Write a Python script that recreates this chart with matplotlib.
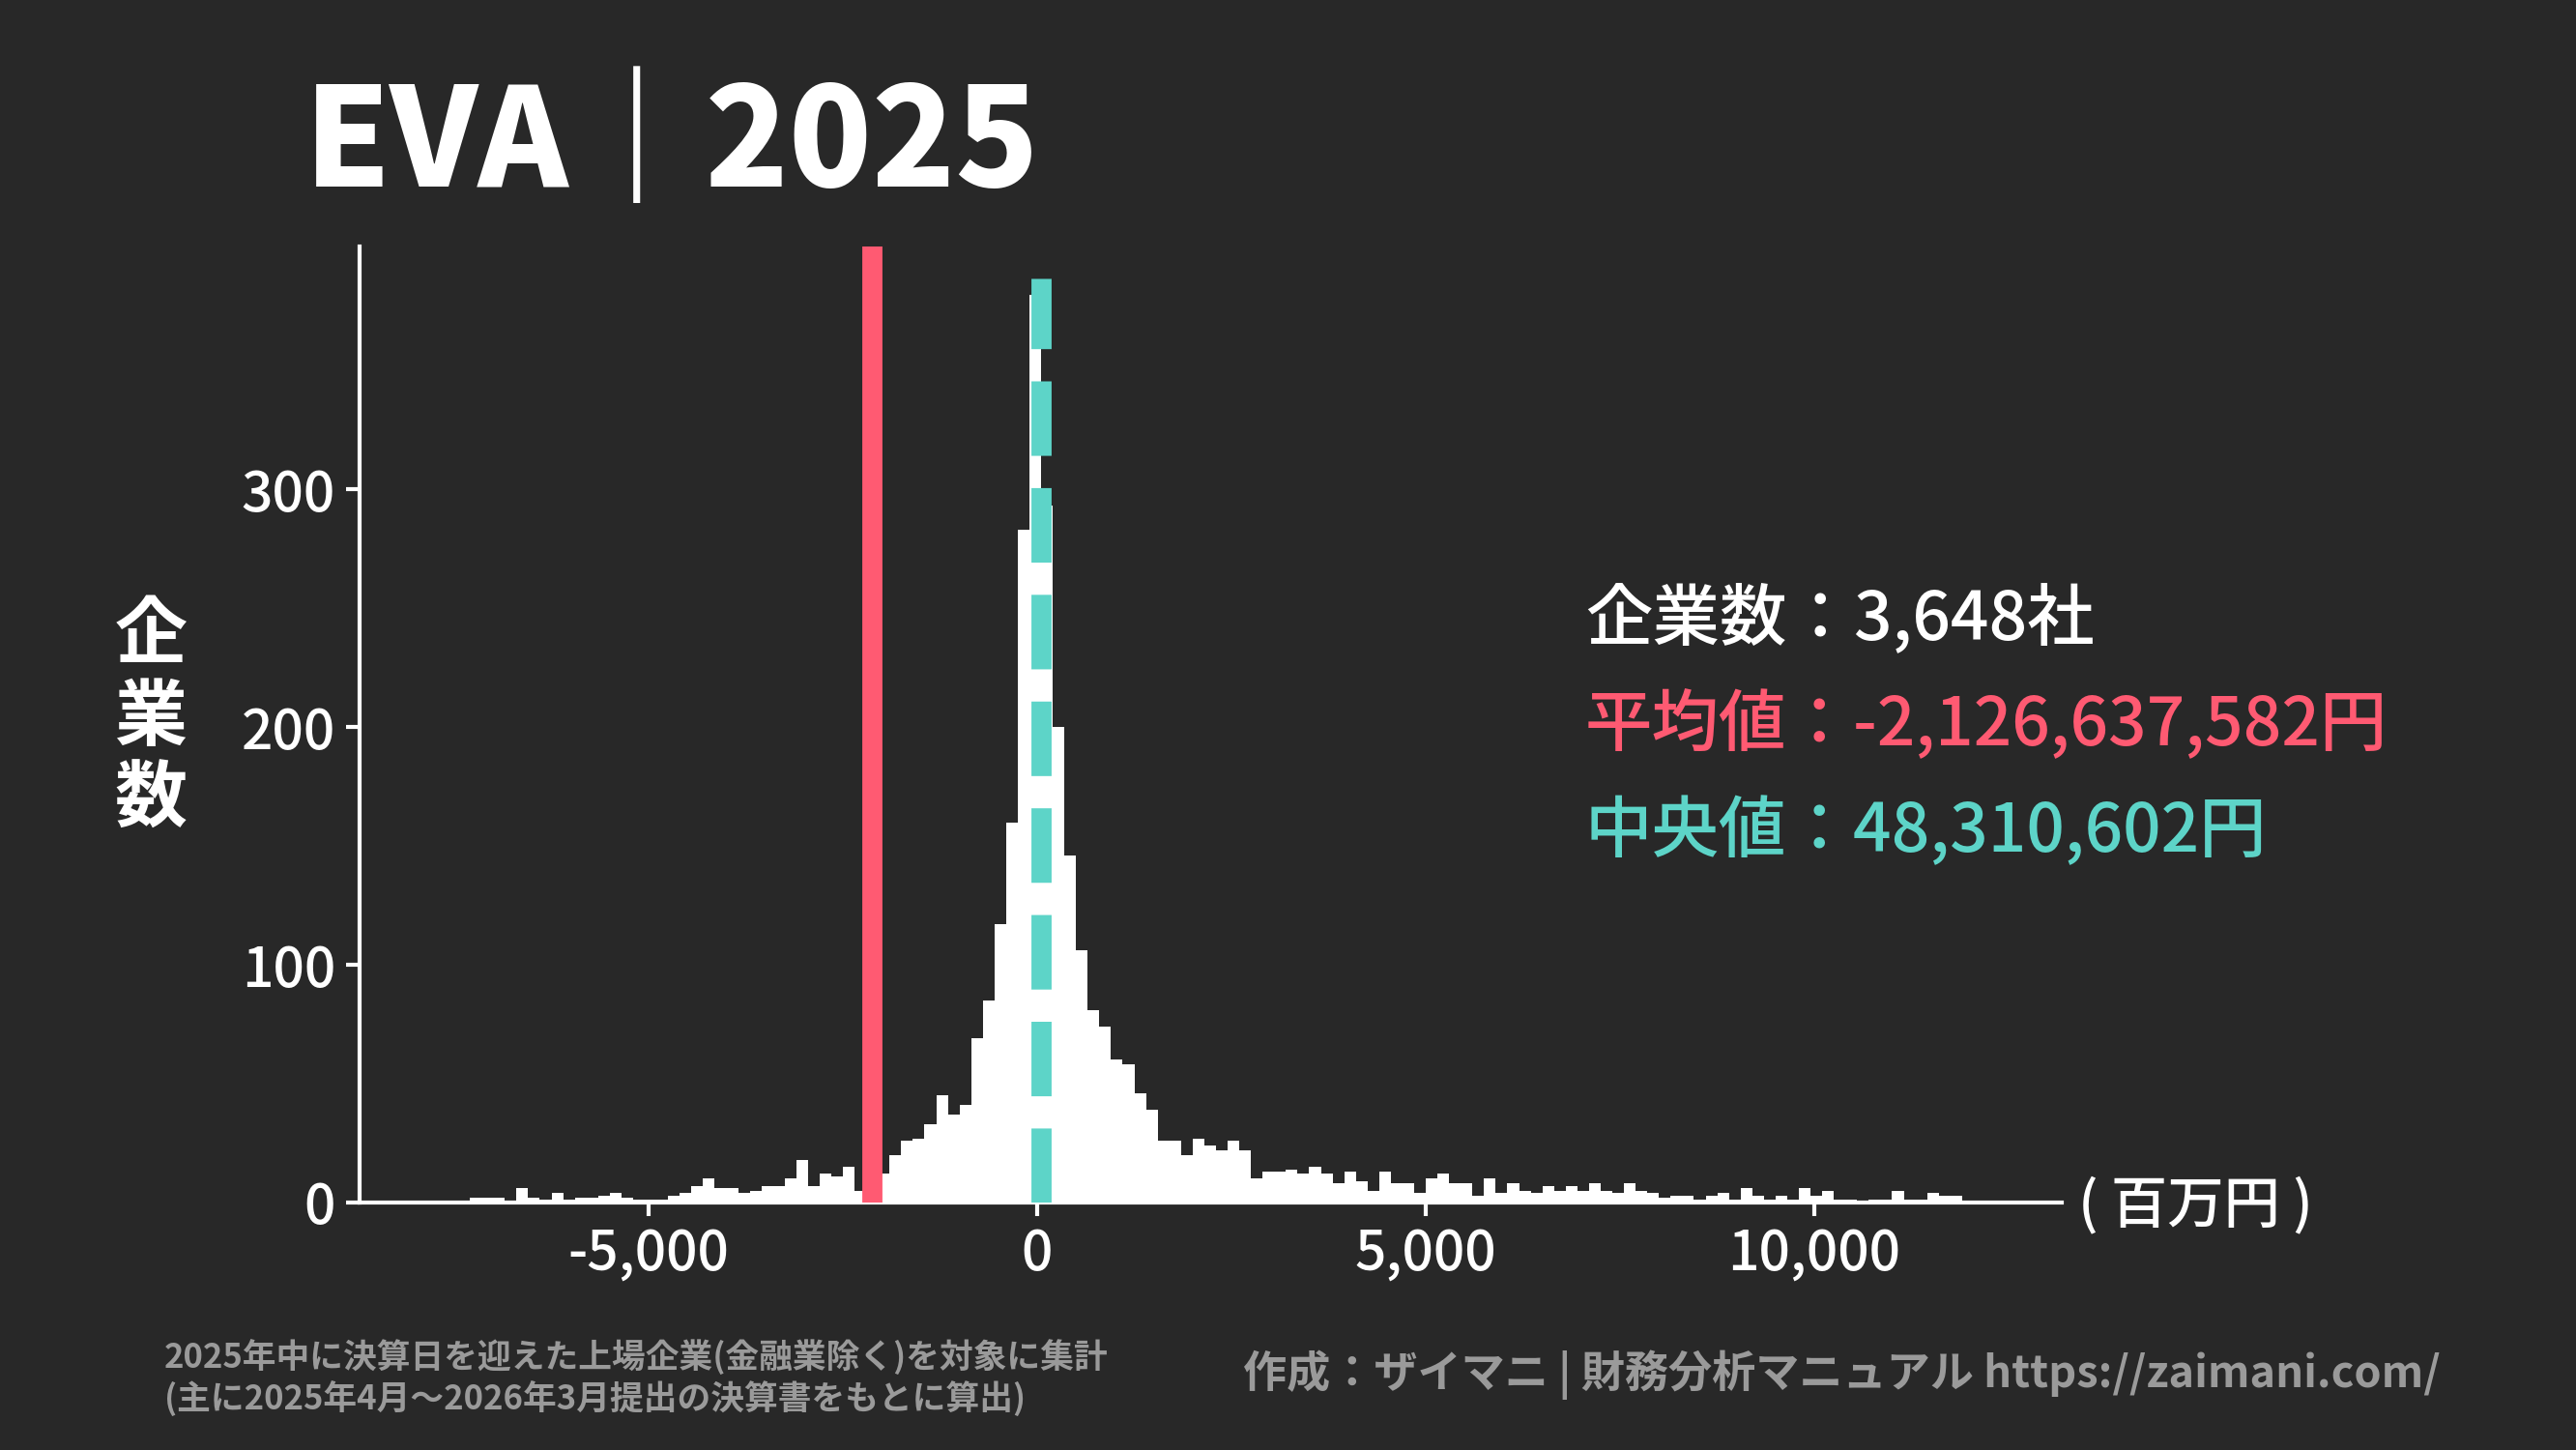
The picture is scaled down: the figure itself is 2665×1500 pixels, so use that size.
import matplotlib
matplotlib.use("Agg")
import matplotlib.pyplot as plt
import numpy as np

plt.rcParams['font.family'] = ['Noto Sans CJK JP', 'DejaVu Sans']

bin_start = -7300
bin_width = 150
counts = [2,2,2,0,6,2,1,4,1,2, 2,3,4,2,1,1,1,3,4,7, 10,6,6,4,5,7,7,10,18,7,
          12,11,15,5,9,12,20,26,27,33, 45,37,41,69,85,117,160,283,
          382,
          293,200,146,106,81,74,60,58,46,39, 26,26,20,27,24,22,26,22,10,13,
          13,14,12,15,12,8,13,9,5,13, 8,8,4,10,12,8,8,3,10,4,
          8,5,4,7,5,7,5,8,5,4, 8,5,4,2,3,
          3,1,3,4,1,6,3,1,3,1,6,3,5,1,1,0,1,1,5,1,1,4,3,3]
mean_val = -2126.637582
median_val = 48.310602
xticks = [-5000, 0, 5000, 10000]
yticks = [0, 100, 200, 300]
title = "EVA｜2025"
stats = [("企業数：3,648社", "#FFFFFF"),
         ("平均値：-2,126,637,582円", "#FF5A72"),
         ("中央値：48,310,602円", "#5DD4C8")]

BG = "#282828"
fig = plt.figure(figsize=(26.65, 15), dpi=100, facecolor=BG)
ax = fig.add_axes([0.1396, 0.1707, 0.6608, 0.659], facecolor=BG)

edges = bin_start + bin_width * np.arange(len(counts))
ax.bar(edges, counts, width=bin_width, align='edge', color='white', linewidth=0, zorder=2)
ax.axvline(mean_val, color="#FF5A72", lw=15, zorder=3)
ax.axvline(median_val, ymax=0.967, color="#5DD4C8", lw=15, dashes=(3.7, 1.6), zorder=3)

ax.set_xlim(-8719, 13184)
ax.set_ylim(0, 402)
for s in ['top', 'right']:
    ax.spines[s].set_visible(False)
for s in ['left', 'bottom']:
    ax.spines[s].set_color('white')
    ax.spines[s].set_linewidth(3)
ax.set_xticks(xticks)
ax.set_xticklabels([f"{v:,}" for v in xticks])
ax.set_yticks(yticks)
ax.tick_params(colors='white', labelsize=41, width=3, length=10, pad=8)
for lb in ax.get_xticklabels() + ax.get_yticklabels():
    lb.set_fontweight('medium')

fig.text(156/2665, 1-743/1500, "企\n業\n数", color='white', fontsize=54, fontweight='bold',
         va='center', ha='center', linespacing=1.15)

fig.text(2150/2665, 1-1247/1500, "( 百万円 )", color='white', fontsize=42, fontweight='medium',
         va='center', ha='left')

fig.text(315/2665, 1-150/1500, title, color='white', fontsize=102, fontweight='black',
         va='center', ha='left')

for i, (t, c) in enumerate(stats):
    fig.text(1640/2665, 1-(640 + i*110)/1500, t, color=c, fontsize=50, fontweight='medium',
             va='center', ha='left')

fig.text(170/2665, 1-1404/1500, "2025年中に決算日を迎えた上場企業(金融業除く)を対象に集計",
         color='#9A9A9A', fontsize=25, fontweight='bold', va='center', ha='left')
fig.text(170/2665, 1-1447/1500, "(主に2025年4月～2026年3月提出の決算書をもとに算出)",
         color='#9A9A9A', fontsize=25, fontweight='bold', va='center', ha='left')
fig.text(2525/2665, 1-1422/1500, "作成：ザイマニ | 財務分析マニュアル https://zaimani.com/",
         color='#9A9A9A', fontsize=32.5, fontweight='bold', va='center', ha='right')

fig.savefig("out.png", dpi=100, facecolor=BG)
